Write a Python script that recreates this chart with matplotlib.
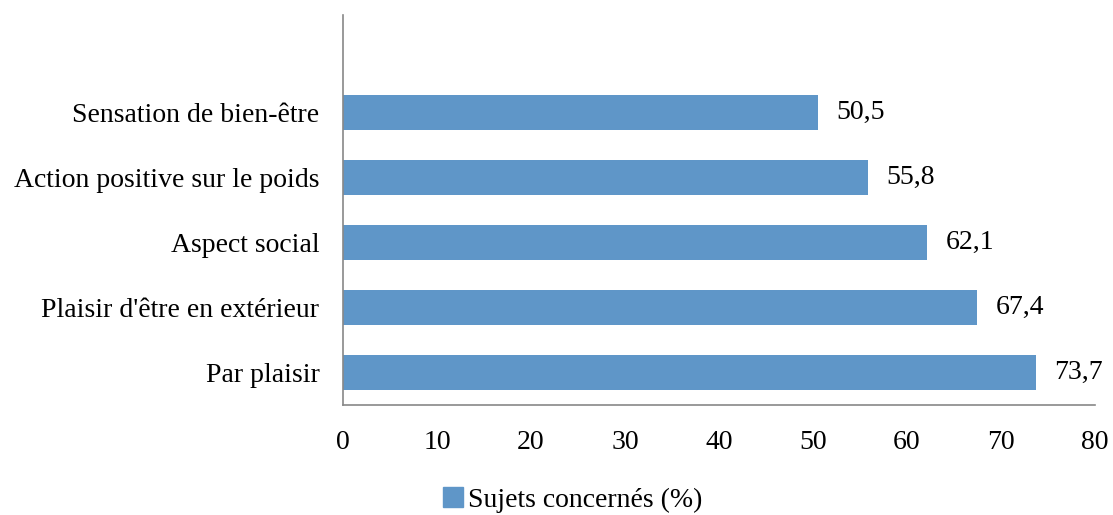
import matplotlib
matplotlib.use("Agg")
import matplotlib.pyplot as plt

categories = ["Par plaisir", "Plaisir d'être en extérieur", "Aspect social",
              "Action positive sur le poids", "Sensation de bien-être"]
values = [73.7, 67.4, 62.1, 55.8, 50.5]
value_labels = ["73,7", "67,4", "62,1", "55,8", "50,5"]
xticks = [0, 10, 20, 30, 40, 50, 60, 70, 80]

plt.rcParams['font.family'] = ['Liberation Serif', 'DejaVu Serif']

W, H = 1113, 515
fig = plt.figure(figsize=(W / 100, H / 100), dpi=100)
ax = fig.add_axes([343 / W, (H - 405) / H, (1095 - 343) / W, 390 / H])

color = '#5F96C8'
fs = 20
y = range(len(categories))
ax.barh(y, values, height=0.55, color=color)
for yi, v, lab in zip(y, values, value_labels):
    ax.text(v + 2.0, yi, lab, va='center', ha='left', fontsize=fs)

ax.set_xlim(0, 80)
ax.set_ylim(-0.5, 5.5)
ax.set_yticks(list(y))
ax.set_yticklabels(categories, fontsize=fs)
ax.set_xticks(xticks)
ax.set_xticklabels([str(t) for t in xticks], fontsize=fs)
ax.tick_params(axis='both', length=0)
ax.tick_params(axis='x', pad=18)
ax.tick_params(axis='y', pad=17)

for s in ['top', 'right']:
    ax.spines[s].set_visible(False)
for s in ['left', 'bottom']:
    ax.spines[s].set_color('#888888')
    ax.spines[s].set_linewidth(1.2)

fig.legend(handles=[plt.Rectangle((0, 0), 1, 1, color=color)],
           labels=["Sujets concernés (%)"], loc='center',
           bbox_to_anchor=(573 / W, (H - 500) / H), frameon=False,
           fontsize=fs, handlelength=0.7, handleheight=0.7, handletextpad=0.2,
           borderpad=0.1)

fig.savefig("out.png", dpi=100)
